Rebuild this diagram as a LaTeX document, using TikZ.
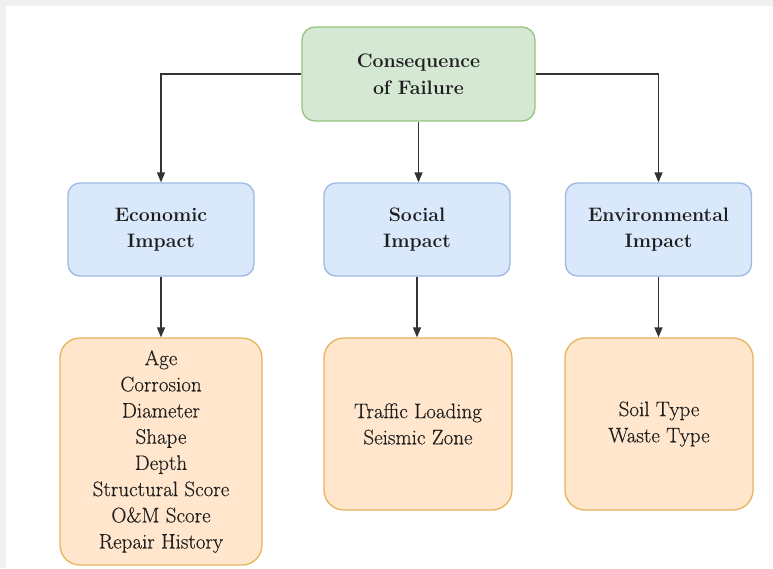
\documentclass[tikz,border=0pt]{standalone}
\usepackage{fontspec}
\newfontfamily\itemfont{Latin Modern Roman}[FakeBold=0.35]
\usetikzlibrary{arrows.meta}
\definecolor{pagegray}{HTML}{EFF0F2}
\definecolor{rootfill}{HTML}{D5E8D4}
\definecolor{rootline}{HTML}{97C47E}
\definecolor{catfill}{HTML}{DAE8FC}
\definecolor{catline}{HTML}{9DB9E0}
\definecolor{itemfill}{HTML}{FFE6CC}
\definecolor{itemline}{HTML}{E6B45A}
\definecolor{linkgray}{HTML}{333333}
\definecolor{textgray}{HTML}{1E1E1E}
\tikzset{
  box/.style={rectangle, line width=1.3pt, inner sep=0pt, align=center,
    text=textgray, font=\fontsize{19.5}{26.5}\selectfont\bfseries},
  rootbox/.style={box, fill=rootfill, draw=rootline, rounded corners=13pt,
    minimum width=233pt, minimum height=94pt},
  catbox/.style={box, fill=catfill, draw=catline, rounded corners=12pt,
    minimum width=186pt, minimum height=93pt},
  itembox/.style={box, fill=itemfill, draw=itemline, rounded corners=20pt,
    minimum width=188pt, font=\itemfont\fontsize{21}{26.2}\selectfont},
  link/.style={draw=linkgray, line width=1.3pt,
    -{Triangle[length=10pt,width=8pt]}}
}
\begin{document}
\begin{tikzpicture}[x=1pt,y=-1pt]
  % page background with a thin gray frame on the top and left
  \fill[pagegray] (0,0) rectangle (773,568);
  \fill[white] (6,6) rectangle (773,568);
  \useasboundingbox (0,0) rectangle (773,568);

  % root
  \node[rootbox] (root) at (418.5,74) {Consequence\\of Failure};

  % impact categories
  \node[catbox] (econ) at (161,229.5) {Economic\\Impact};
  \node[catbox] (soc)  at (417,229.5) {Social\\Impact};
  \node[catbox] (env)  at (658.5,229.5) {Environmental\\Impact};

  % factor lists
  \node[itembox, minimum width=202pt, minimum height=227pt] (econitems) at (161,451.5)
    {Age\\Corrosion\\Diameter\\Shape\\Depth\\Structural Score\\O\&M Score\\Repair History};
  \node[itembox, minimum height=172pt] (socitems) at (418,424)
    {Traffic Loading\\Seismic Zone};
  \node[itembox, minimum height=172pt] (envitems) at (659,424)
    {Soil Type\\Waste Type};

  % connectors
  \draw[link] (root.west) -| (econ.north);
  \draw[link] (root.south) -- (root.south |- soc.north);
  \draw[link] (root.east) -| (env.north);
  \draw[link] (econ.south) -- (econitems.north);
  \draw[link] (soc.south) -- (soc.south |- socitems.north);
  \draw[link] (env.south) -- (env.south |- envitems.north);
\end{tikzpicture}
\end{document}
